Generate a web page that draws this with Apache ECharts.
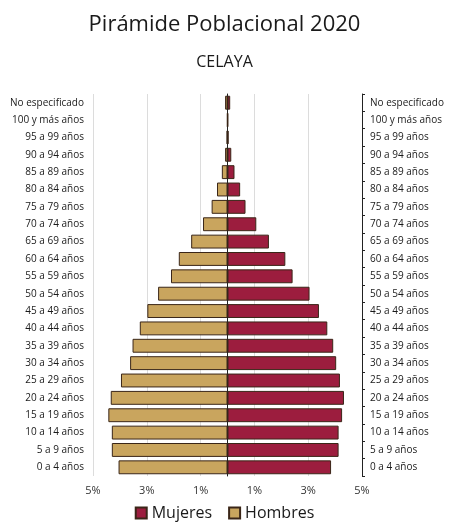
<!DOCTYPE html>
<html>
<head>
<meta charset="utf-8">
<title>Pirámide Poblacional 2020 - Celaya</title>
<script src="https://cdn.jsdelivr.net/npm/echarts@6/dist/echarts.min.js"></script>
<style>
	html, body { margin: 0; padding: 0; background: #fff; }
	#main { width: 449px; height: 530px; }
</style>
</head>
<body>
<div id="main"></div>
<script>
// grupos de edad, de arriba hacia abajo
var ages = ['No especificado', '100 y más años', '95 a 99 años', '90 a 94 años', '85 a 89 años',
	'80 a 84 años', '75 a 79 años', '70 a 74 años', '65 a 69 años', '60 a 64 años', '55 a 59 años',
	'50 a 54 años', '45 a 49 años', '40 a 44 años', '35 a 39 años', '30 a 34 años', '25 a 29 años',
	'20 a 24 años', '15 a 19 años', '10 a 14 años', '5 a 9 años', '0 a 4 años'];
// porcentaje de la población total
var hombres = [0.09, 0.01, 0.03, 0.09, 0.21, 0.39, 0.59, 0.91, 1.35, 1.81, 2.10,
	2.58, 2.98, 3.26, 3.53, 3.62, 3.96, 4.34, 4.43, 4.30, 4.30, 4.05];
var mujeres = [0.10, 0.02, 0.04, 0.14, 0.26, 0.47, 0.67, 1.07, 1.54, 2.15, 2.42,
	3.05, 3.40, 3.71, 3.93, 4.04, 4.18, 4.33, 4.26, 4.13, 4.13, 3.85];

var fontName = 'Open Sans';
var colorMujeres = '#9c1d3e';
var colorHombres = '#c9a55e';
var borde = '#3a2618';

var chart = echarts.init(document.getElementById('main'));

// hombres a la izquierda
var hombresNeg = hombres.map(function (v) { return -v; });

var option = {
	backgroundColor: '#fff',
	textStyle: { fontFamily: fontName },
	title: [{
		text: 'Pirámide Poblacional 2020',
		left: 'center',
		top: 9,
		textStyle: { fontFamily: fontName, fontSize: 22, fontWeight: 'normal', color: '#1a1a1a' }
	}, {
		text: 'CELAYA',
		left: 'center',
		top: 49,
		textStyle: { fontFamily: fontName, fontSize: 16, fontWeight: 'normal', color: '#1a1a1a' }
	}],
	legend: {
		bottom: 4,
		left: 'center',
		itemWidth: 11,
		itemHeight: 11,
		itemGap: 16,
		icon: 'rect',
		textStyle: { fontFamily: fontName, fontSize: 16, color: '#1a1a1a' },
		data: ['Mujeres', 'Hombres']
	},
	grid: {
		left: 93,
		right: 87,
		top: 94,
		bottom: 54
	},
	xAxis: {
		type: 'value',
		min: -5,
		max: 5,
		interval: 2,
		axisLine: { show: false },
		axisTick: { show: false },
		splitLine: { lineStyle: { color: '#dcdcdc', width: 1 } },
		axisLabel: {
			margin: 9,
			fontSize: 11,
			color: '#333',
			formatter: function (v) { return Math.abs(v) + '%'; }
		}
	},
	yAxis: [{
		type: 'category',
		position: 'left',
		inverse: true,
		data: ages,
		axisLine: { show: true, lineStyle: { color: '#222', width: 1 } },
		axisTick: { show: false },
		axisLabel: { fontSize: 10, color: '#1a1a1a', margin: 9 }
	}, {
		type: 'category',
		position: 'right',
		inverse: true,
		data: ages,
		axisLine: { show: true, lineStyle: { color: '#222', width: 1 } },
		axisTick: { show: true, length: 3, lineStyle: { color: '#222' } },
		axisLabel: { fontSize: 10, color: '#1a1a1a', margin: 8 }
	}],
	series: [{
		name: 'Mujeres',
		type: 'bar',
		stack: 'total',
		yAxisIndex: 0,
		barCategoryGap: '20%',
		data: mujeres,
		itemStyle: { color: colorMujeres, borderColor: borde, borderWidth: 1 }
	}, {
		name: 'Hombres',
		type: 'bar',
		stack: 'total',
		yAxisIndex: 0,
		barCategoryGap: '20%',
		data: hombresNeg,
		itemStyle: { color: colorHombres, borderColor: borde, borderWidth: 1 }
	}]
};

chart.setOption(option, true);
</script>
</body>
</html>
